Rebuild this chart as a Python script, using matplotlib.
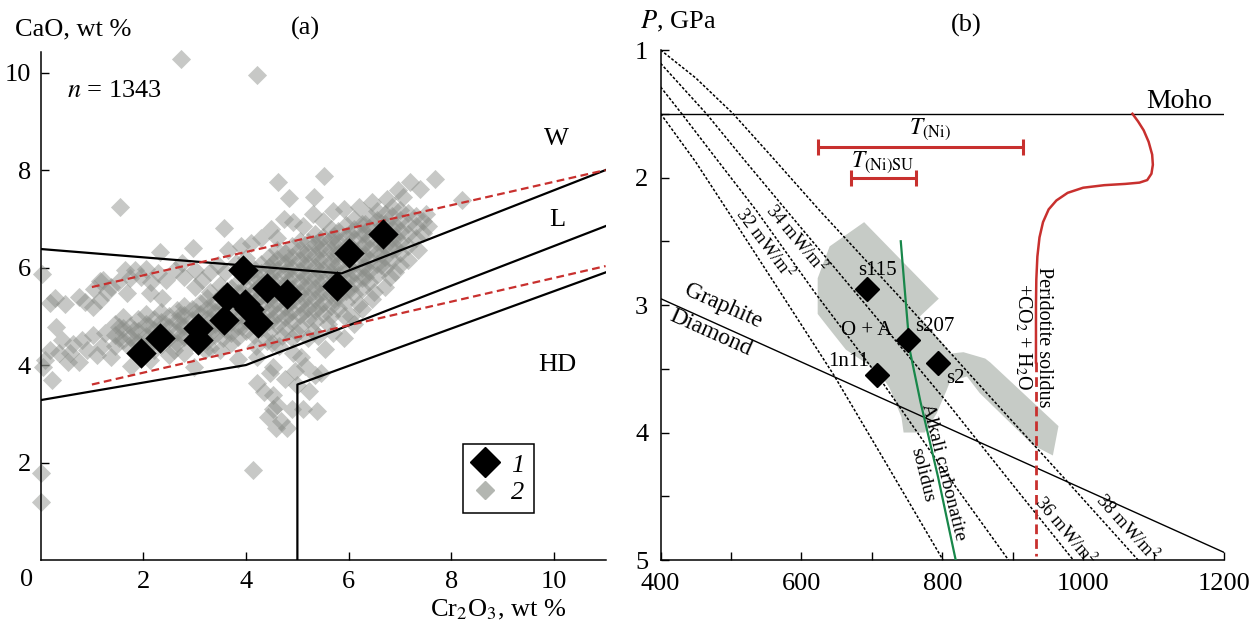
import matplotlib
matplotlib.use('Agg')
import matplotlib.pyplot as plt
from matplotlib.lines import Line2D
from matplotlib.patches import Polygon

plt.rcParams['font.family'] = ['Liberation Serif', 'DejaVu Serif']
plt.rcParams['mathtext.fontset'] = 'stix'

# ---------------- panel (a): CaO vs Cr2O3 in garnet ----------------
# 1 - studied garnets
black_cr2o3 = [1.96, 2.33, 3.07, 3.07, 3.57, 3.63, 3.95, 3.98, 4.05, 4.24, 4.40, 4.80, 5.78, 6.00, 6.66]
black_cao = [4.25, 4.56, 4.75, 4.52, 4.93, 5.40, 5.95, 5.25, 5.15, 4.87, 5.58, 5.46, 5.62, 6.30, 6.68]

# 2 - dense part of the cloud, read column by column
band_cr2o3 = [1.45, 1.60, 1.75, 1.90, 2.05, 2.20, 2.35, 2.50, 2.65, 2.80, 2.95, 3.10, 3.25, 3.40,
              3.55, 3.70, 3.85, 4.00, 4.15, 4.30, 4.45, 4.60, 4.75, 4.90, 5.05, 5.20, 5.35, 5.50,
              5.65, 5.80, 5.95, 6.10, 6.25, 6.40, 6.55, 6.70, 6.85, 7.00, 7.15, 7.30, 7.45]
band_cao = [
    [4.40, 4.62, 4.85], [4.52, 4.75, 4.98], [4.35, 4.58, 4.80], [4.48, 4.70, 4.95],
    [4.38, 4.60, 4.85, 5.05], [4.50, 4.72, 4.95], [4.42, 4.65, 4.88, 5.08], [4.55, 4.78, 5.00],
    [4.45, 4.68, 4.90, 5.12], [4.58, 4.80, 5.02, 5.22], [4.48, 4.70, 4.92, 5.15],
    [4.60, 4.82, 5.05, 5.28], [4.50, 4.72, 4.95, 5.18, 5.38], [4.62, 4.85, 5.08, 5.30],
    [4.55, 4.78, 5.00, 5.22, 5.45], [4.65, 4.88, 5.10, 5.35, 5.58],
    [4.58, 4.80, 5.02, 5.25, 5.48, 5.70], [4.70, 4.92, 5.15, 5.38, 5.60, 5.82],
    [4.62, 4.85, 5.08, 5.30, 5.52, 5.75, 5.98], [4.75, 4.98, 5.20, 5.42, 5.65, 5.88, 6.08],
    [4.68, 4.90, 5.12, 5.35, 5.58, 5.80, 6.02, 6.22], [4.82, 5.05, 5.28, 5.50, 5.72, 5.95, 6.18, 6.35],
    [4.75, 4.98, 5.20, 5.42, 5.65, 5.88, 6.10, 6.30], [4.88, 5.10, 5.32, 5.55, 5.78, 6.00, 6.22, 6.45],
    [4.80, 5.02, 5.25, 5.48, 5.70, 5.92, 6.15, 6.38, 6.55], [4.95, 5.18, 5.40, 5.62, 5.85, 6.08, 6.30, 6.52],
    [4.90, 5.12, 5.35, 5.58, 5.80, 6.02, 6.25, 6.48, 6.68], [5.05, 5.28, 5.50, 5.72, 5.95, 6.18, 6.40, 6.62],
    [5.00, 5.22, 5.45, 5.68, 5.90, 6.12, 6.35, 6.58, 6.80], [5.18, 5.40, 5.62, 5.85, 6.08, 6.30, 6.52, 6.75],
    [5.30, 5.52, 5.75, 5.98, 6.20, 6.42, 6.65, 6.88], [5.45, 5.68, 5.90, 6.12, 6.35, 6.58, 6.80, 7.00],
    [5.55, 5.78, 6.00, 6.22, 6.45, 6.68, 6.90], [5.70, 5.92, 6.15, 6.38, 6.60, 6.82, 7.05],
    [5.85, 6.08, 6.30, 6.52, 6.75, 6.98, 7.15], [6.00, 6.22, 6.45, 6.68, 6.90, 7.10],
    [6.15, 6.38, 6.60, 6.82, 7.05, 7.25], [6.30, 6.52, 6.75, 6.98, 7.18],
    [6.45, 6.68, 6.90, 7.12], [6.60, 6.85, 7.05], [6.70, 6.95],
]

# 2 - core of the cloud (second, darker layer)
core_cr2o3 = [1.52, 1.82, 2.12, 2.42, 2.72, 3.02, 3.32, 3.62, 3.92, 4.22, 4.52, 4.82, 5.12,
              5.42, 5.72, 6.02, 6.32, 6.62, 6.92]
core_cao = [
    [4.55, 4.78], [4.50, 4.72], [4.55, 4.80], [4.60, 4.85], [4.58, 4.82, 5.02],
    [4.62, 4.85, 5.08], [4.68, 4.92, 5.15], [4.72, 4.95, 5.18, 5.40], [4.80, 5.05, 5.28, 5.50],
    [4.88, 5.12, 5.35, 5.58, 5.80], [4.95, 5.20, 5.45, 5.68, 5.92, 6.10],
    [5.02, 5.28, 5.52, 5.75, 5.98, 6.20], [5.10, 5.35, 5.60, 5.82, 6.05, 6.28],
    [5.20, 5.45, 5.68, 5.92, 6.15, 6.38, 6.55], [5.35, 5.58, 5.80, 6.02, 6.25, 6.48, 6.65],
    [5.55, 5.78, 6.00, 6.22, 6.45, 6.68], [5.80, 6.02, 6.25, 6.48, 6.70, 6.90],
    [6.05, 6.28, 6.50, 6.72, 6.92], [6.40, 6.62, 6.85],
]

# 2 - scattered points around the cloud
sparse_cr2o3 = [
    2.73, 4.21, 1.54, 0.00, 0.00, 4.13, 0.02, 4.63, 5.52, 7.68, 7.20, 8.20,
    4.83, 5.33, 3.58, 4.49, 4.73, 4.92, 2.33, 2.97, 3.64, 7.38, 6.96, 5.10, 5.30, 5.50, 5.70, 5.90,
    6.20, 6.45, 6.75, 7.05, 4.10, 4.30, 3.90, 4.60,
    1.05, 1.15, 1.22, 1.38, 1.64, 1.84, 2.06, 2.29, 2.62, 1.68, 2.13, 2.36, 1.30, 1.50, 1.75,
    1.95, 2.15, 2.45, 2.80, 3.00, 3.15, 3.30, 3.45, 3.00, 2.75, 3.60, 3.80, 4.00, 3.30, 3.50,
    0.28, 0.18, 0.48, 0.74, 0.87, 1.03, 1.16, 0.31, 0.41, 0.64, 0.80, 1.03, 1.25, 0.18, 0.09,
    0.35, 0.57, 0.54, 0.74, 1.09, 1.38, 0.22, 1.77, 2.13, 0.05, 1.20, 0.90,
    2.50, 2.80, 3.20, 3.50, 2.99, 3.84, 4.20, 4.50, 4.22, 4.53, 4.65, 4.92, 5.07, 5.54, 5.70,
    5.90, 6.10, 5.20, 4.90, 5.40,
    4.22, 4.53, 4.61, 4.53, 4.59, 4.80, 4.90, 5.11, 5.23, 5.38, 5.34, 5.46, 5.15, 4.96, 4.76,
    4.46, 4.42, 4.69, 4.35, 5.00,
    7.50, 7.55, 7.35, 7.15, 6.90, 6.70, 6.45, 6.25, 6.05,
    5.60, 5.90, 6.20, 6.50, 5.30, 5.00, 4.70, 4.40, 6.80, 7.00, 3.30, 3.70, 2.60, 2.20, 1.90,
]
sparse_cao = [
    10.27, 9.94, 7.24, 1.79, 1.18, 1.85, 5.87, 7.76, 7.88, 7.82, 7.76, 7.38,
    7.42, 7.44, 6.82, 6.79, 7.00, 6.93, 6.32, 6.40, 6.36, 7.62, 7.59, 6.85, 7.10, 6.95, 7.15, 7.20,
    7.25, 7.35, 7.40, 7.45, 6.50, 6.60, 6.45, 6.60,
    5.55, 5.72, 5.74, 5.61, 5.95, 5.95, 5.98, 5.88, 5.95, 5.47, 5.47, 5.37, 5.50, 5.70, 5.78,
    5.80, 5.70, 5.75, 5.80, 5.60, 5.75, 5.90, 6.05, 5.95, 6.10, 5.90, 6.10, 6.20, 5.50, 5.65,
    5.37, 5.27, 5.25, 5.40, 5.30, 5.20, 5.33, 4.79, 4.51, 4.44, 4.51, 4.62, 4.65, 4.31, 4.10,
    4.24, 4.24, 4.07, 4.07, 4.21, 4.17, 3.69, 3.97, 4.10, 3.95, 4.40, 4.30,
    4.20, 4.25, 4.30, 4.30, 3.95, 4.12, 4.40, 4.45, 4.16, 3.95, 4.40, 4.24, 4.16, 4.32, 4.65,
    4.55, 4.85, 4.55, 4.55, 4.60,
    3.63, 3.38, 3.18, 3.10, 2.71, 2.71, 3.10, 3.10, 3.46, 3.06, 3.79, 3.83, 3.99, 3.87, 3.71,
    3.83, 2.93, 2.85, 3.45, 3.60,
    7.10, 6.85, 6.35, 6.15, 5.90, 5.60, 5.35, 5.15, 5.00,
    4.85, 5.00, 5.25, 5.50, 4.70, 4.65, 4.60, 4.50, 5.80, 6.05, 4.35, 4.45, 4.30, 4.30, 4.25,
]

# field boundaries (W / L / HD) and the red dashed trend
bound_w_x, bound_w_y = [0, 5.86, 11], [6.38, 5.88, 8.0]
bound_l_x, bound_l_y = [0, 4.0, 11], [3.28, 4.0, 6.85]
bound_hd_x, bound_hd_y = [5.0, 5.0, 11], [0, 3.6, 5.9]
trend_hi_x, trend_hi_y = [1.0, 11], [5.6, 8.0]
trend_lo_x, trend_lo_y = [1.0, 11], [3.6, 6.03]

# ---------------- panel (b): P-T diagram ----------------
geo32_T = [400, 450, 495, 570, 646, 720, 801]
geo32_P = [1.5, 1.88, 2.26, 2.90, 3.55, 4.24, 5.0]
geo34_T = [400, 430, 480, 536, 620, 709, 800, 894]
geo34_P = [1.29, 1.50, 1.86, 2.26, 2.91, 3.56, 4.28, 5.0]
geo36_T = [400, 465, 520, 579, 690, 804, 900, 986]
geo36_P = [1.105, 1.5, 1.87, 2.26, 2.99, 3.745, 4.41, 5.0]
geo38_T = [400, 450, 503, 560, 626, 750, 872, 980, 1078]
geo38_P = [1.0, 1.22, 1.5, 1.85, 2.26, 3.0, 3.745, 4.40, 5.0]

moho_T, moho_P = [400, 1200], [1.5, 1.5]
gd_T, gd_P = [400, 1200], [2.95, 4.94]

alk_T = [741, 748, 754, 769, 794, 819]
alk_P = [2.50, 2.97, 3.36, 3.76, 4.35, 5.0]

sol_T = [1070, 1078, 1086, 1093, 1098, 1099, 1097, 1091, 1080, 1060, 1030, 1000, 978, 962,
         951, 943, 938, 935, 933.5, 933, 933]
sol_P = [1.5, 1.56, 1.63, 1.72, 1.82, 1.90, 1.97, 2.02, 2.04, 2.05, 2.06, 2.08, 2.12, 2.18,
         2.25, 2.35, 2.47, 2.62, 2.80, 3.0, 3.45]
sol_dash_T, sol_dash_P = [933, 933], [3.45, 4.97]

oa_T = [689, 795, 768, 813, 830, 861, 868, 965, 957, 929, 853, 835, 811, 806, 792, 775,
        745, 742, 725, 709, 663, 640, 623, 623, 640]
oa_P = [2.35, 2.95, 3.09, 3.38, 3.37, 3.42, 3.45, 3.95, 4.18, 4.10, 3.69, 3.56, 3.60, 3.67,
        3.85, 4.00, 4.00, 3.88, 3.65, 3.52, 3.35, 3.19, 3.07, 2.79, 2.54]

samp_names = ['s115', 's207', 's2', '1n11']
samp_T = [692.6, 751.7, 794.3, 707.7]
samp_P = [2.875, 3.275, 3.457, 3.55]

tni_min, tni_max, tni_P = 624, 914, 1.758
tsu_min, tsu_max, tsu_P = 670, 762, 2.006

RED = '#c8302e'
GREEN = '#18874a'

fig = plt.figure(figsize=(12.51, 6.23), dpi=100)

# ===== (a) =====
ax1 = fig.add_axes([0.0324, 0.1011, 0.4517, 0.8161])
ax1.set_xlim(0, 11)
ax1.set_ylim(0, 10.43)
for s in ['top', 'right']:
    ax1.spines[s].set_visible(False)
for s in ['left', 'bottom']:
    ax1.spines[s].set_linewidth(1.1)

cols_x = band_cr2o3 + core_cr2o3
cols_y = band_cao + core_cao
gray_x = [x for x, ys in zip(cols_x, cols_y) for _ in ys] + sparse_cr2o3
gray_y = [y for ys in cols_y for y in ys] + sparse_cao
ax1.scatter(gray_x, gray_y, marker='D', s=95, color='#8a8d88', alpha=0.48,
            linewidths=0, zorder=2, clip_on=False)

ax1.plot(bound_w_x, bound_w_y, color='black', lw=1.6, zorder=3)
ax1.plot(bound_l_x, bound_l_y, color='black', lw=1.6, zorder=3)
ax1.plot(bound_hd_x, bound_hd_y, color='black', lw=1.6, zorder=3)
ax1.plot(trend_hi_x, trend_hi_y, color=RED, lw=1.6, dashes=(3.5, 2), zorder=3)
ax1.plot(trend_lo_x, trend_lo_y, color=RED, lw=1.6, dashes=(3.5, 2), zorder=3)

ax1.scatter(black_cr2o3, black_cao, marker='D', s=240, color='black', linewidths=0, zorder=4)

ax1.set_xticks([2, 4, 6, 8, 10])
ax1.set_yticks([2, 4, 6, 8, 10])
ax1.tick_params(direction='in', length=6, width=1, labelsize=19)
ax1.tick_params(axis='x', pad=8)
ax1.tick_params(axis='y', pad=7)
ax1.text(-0.28, -0.41, '0', fontsize=19, ha='center', va='center', clip_on=False)

ax1.text(10.05, 8.64, 'W', fontsize=19, ha='center', va='center')
ax1.text(10.05, 6.97, 'L', fontsize=19, ha='center', va='center')
ax1.text(10.05, 4.0, 'HD', fontsize=19, ha='center', va='center')
ax1.text(0.52, 9.62, '$n$ = 1343', fontsize=19, ha='left', va='center')

h1 = Line2D([], [], marker='D', ls='none', color='black', markersize=15)
h2 = Line2D([], [], marker='D', ls='none', color='#b3b6b1', markersize=9)
leg = ax1.legend([h1, h2], ['1', '2'], loc='lower left', bbox_to_anchor=(0.747, 0.092),
                 borderaxespad=0, frameon=True, fancybox=False, edgecolor='black', framealpha=1,
                 prop={'style': 'italic', 'size': 19}, handlelength=1.0,
                 handletextpad=0.5, labelspacing=0.15, borderpad=0.35)
leg.get_frame().set_linewidth(1.1)

fig.text(0.012, 0.952, 'CaO, wt %', fontsize=19, ha='left', va='center')
fig.text(0.2438, 0.955, '(a)', fontsize=19, ha='center', va='center')
fig.text(0.4525, 0.0215, 'Cr$_2$O$_3$, wt %', fontsize=19, ha='right', va='center')

# ===== (b) =====
ax2 = fig.add_axes([0.5281, 0.1011, 0.4503, 0.8186])
ax2.set_xlim(400, 1200)
ax2.set_ylim(5.0, 1.0)
for s in ['top', 'right']:
    ax2.spines[s].set_visible(False)
for s in ['left', 'bottom']:
    ax2.spines[s].set_linewidth(1.1)

ax2.add_patch(Polygon(list(zip(oa_T, oa_P)), closed=True, facecolor='#c6cbc6',
                      edgecolor='none', zorder=1))

for gT, gP in [(geo32_T, geo32_P), (geo34_T, geo34_P), (geo36_T, geo36_P), (geo38_T, geo38_P)]:
    ax2.plot(gT, gP, color='black', lw=1.1, linestyle=(0, (1.8, 1.2)), zorder=2)

ax2.plot(moho_T, moho_P, color='black', lw=1.0, zorder=2)
ax2.plot(gd_T, gd_P, color='black', lw=1.0, zorder=2)
ax2.plot(alk_T, alk_P, color=GREEN, lw=1.6, zorder=3)
ax2.plot(sol_T, sol_P, color=RED, lw=1.8, zorder=3)
ax2.plot(sol_dash_T, sol_dash_P, color=RED, lw=2.0, dashes=(3.5, 1.8), zorder=3)

ax2.errorbar([(tni_min + tni_max) / 2], [tni_P], xerr=[(tni_max - tni_min) / 2], fmt='none',
             ecolor=RED, elinewidth=2.2, capsize=6, capthick=2.2, zorder=3)
ax2.errorbar([(tsu_min + tsu_max) / 2], [tsu_P], xerr=[(tsu_max - tsu_min) / 2], fmt='none',
             ecolor=RED, elinewidth=2.2, capsize=6, capthick=2.2, zorder=3)

ax2.plot(samp_T, samp_P, 'D', color='black', markersize=12.5, ls='none', zorder=5)

ax2.set_xticks([400, 600, 800, 1000, 1200])
ax2.set_xticks([500, 700, 900, 1100], minor=True)
ax2.set_yticks([1, 2, 3, 4, 5])
ax2.set_yticks([1.5, 2.5, 3.5, 4.5], minor=True)
ax2.tick_params(which='both', direction='in', length=6, width=1)
ax2.tick_params(labelsize=19)
ax2.tick_params(axis='x', pad=9)
ax2.tick_params(axis='y', pad=9)
ax2.set_yticklabels(['1', '2', '3', '4', '5'])

label_pos = {'s115': (707.7, 2.73), 's207': (789.6, 3.165), 's2': (818, 3.58), '1n11': (666.5, 3.44)}
for name in samp_names:
    tx, py = label_pos[name]
    ax2.text(tx, py, name, fontsize=15, ha='center', va='center', zorder=6)
ax2.text(692.6, 3.196, 'O + A', fontsize=15, ha='center', va='center', zorder=6)

ax2.text(1136, 1.40, 'Moho', fontsize=20, ha='center', va='center')
ax2.text(489, 3.01, 'Graphite', fontsize=17, ha='center', va='center', rotation=-24)
ax2.text(471, 3.22, 'Diamond', fontsize=17, ha='center', va='center', rotation=-24)
ax2.text(548, 2.52, '32 mW/m$^2$', fontsize=13.5, ha='center', va='center', rotation=-53)
ax2.text(592, 2.48, '34 mW/m$^2$', fontsize=13.5, ha='center', va='center', rotation=-50)
ax2.text(975, 4.77, '36 mW/m$^2$', fontsize=13.5, ha='center', va='center', rotation=-50)
ax2.text(1062, 4.75, '38 mW/m$^2$', fontsize=13.5, ha='center', va='center', rotation=-48)
ax2.text(801.5, 4.31, 'Alkali carbonatite', fontsize=14, ha='center', va='center', rotation=-76)
ax2.text(772, 4.33, 'solidus', fontsize=14, ha='center', va='center', rotation=-76)
ax2.text(943.5, 3.25, 'Peridotite solidus', fontsize=14.5, ha='center', va='center', rotation=-90)
ax2.text(915, 3.25, '+CO$_2$ + H$_2$O', fontsize=14.5, ha='center', va='center', rotation=-90)
ax2.text(782, 1.62, '$T_{\\mathrm{(Ni)}}$', fontsize=17, ha='center', va='center')
ax2.text(716, 1.876, '$T_{\\mathrm{(Ni)SU}}$', fontsize=17, ha='center', va='center')

fig.text(0.5116, 0.965, '$P$, GPa', fontsize=19, ha='left', va='center')
fig.text(0.7725, 0.9586, '(b)', fontsize=19, ha='center', va='center')

fig.savefig('out.png', dpi=100)
